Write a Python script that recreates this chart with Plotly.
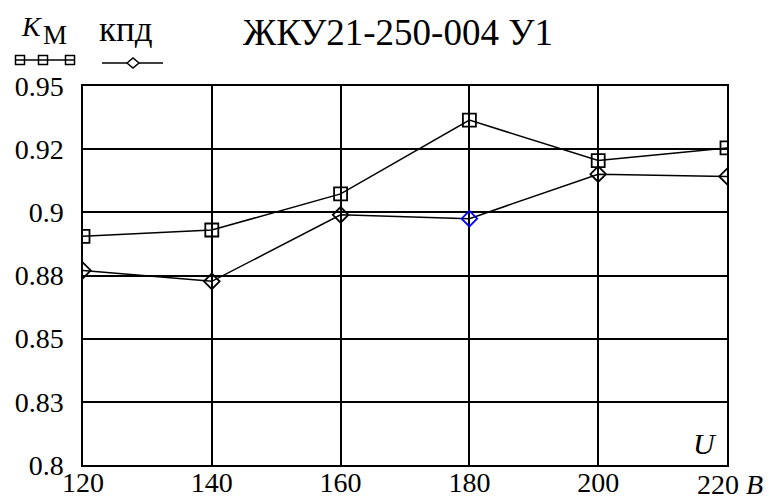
import plotly.graph_objects as go

# ---- data ----
voltage = [120, 140, 160, 180, 200, 220]
k_m = [0.8905, 0.8930, 0.9073, 0.9365, 0.9205, 0.9255]
kpd = [0.8770, 0.8727, 0.8990, 0.8975, 0.9151, 0.9142]
kpd_marker_colors = ["black", "black", "black", "blue", "black", "black"]

y_tickvals = [0.8, 0.825, 0.85, 0.875, 0.9, 0.925, 0.95]
y_ticktext = ["0.8", "0.83", "0.85", "0.88", "0.9", "0.92", "0.95"]
x_tickvals = [120, 140, 160, 180, 200]
x_ticktext = ["120", "140", "160", "180", "200"]

title_text = "ЖКУ21-250-004 У1"

FONT = "Liberation Serif, Times New Roman, DejaVu Serif, serif"
W, H = 783, 501
L, R, T, B = 83, 56, 86, 36
PW, PH = W - L - R, H - T - B


def px(x):
    return (x - L) / PW


def py(y):
    return (H - B - y) / PH


fig = go.Figure()
fig.add_trace(go.Scatter(
    x=voltage, y=k_m, mode="lines+markers",
    line=dict(color="black", width=1.5),
    marker=dict(symbol="square-open", size=13, color="black",
                line=dict(color="black", width=1.8)),
    showlegend=False))
fig.add_trace(go.Scatter(
    x=voltage, y=kpd, mode="lines+markers",
    line=dict(color="black", width=1.5),
    marker=dict(symbol="diamond-open", size=12, color=kpd_marker_colors,
                line=dict(color=kpd_marker_colors, width=1.8)),
    showlegend=False))

shapes = []
# legend glyph 1 (squares)
shapes.append(dict(type="line", xref="paper", yref="paper",
                   x0=px(15), x1=px(75), y0=py(60), y1=py(60),
                   line=dict(color="black", width=1.5)))
for cx in (20, 43, 70):
    shapes.append(dict(type="rect", xref="paper", yref="paper",
                       x0=px(cx - 4.5), x1=px(cx + 4.5), y0=py(64.5), y1=py(55.5),
                       line=dict(color="black", width=1.5)))
# legend glyph 2 (diamond)
shapes.append(dict(type="line", xref="paper", yref="paper",
                   x0=px(102), x1=px(163), y0=py(63), y1=py(63),
                   line=dict(color="black", width=1.5)))
cx, cy = 133, 63
path = (f"M {px(cx-6)} {py(cy)} L {px(cx)} {py(cy-5)} "
        f"L {px(cx+6)} {py(cy)} L {px(cx)} {py(cy+5)} Z")
shapes.append(dict(type="path", xref="paper", yref="paper", path=path,
                   fillcolor="white", line=dict(color="black", width=1.5)))


def ann(text, x, y, size, xanchor="left"):
    return dict(text=text, xref="paper", yref="paper", x=px(x), y=py(y),
                xanchor=xanchor, yanchor="middle", showarrow=False,
                font=dict(family=FONT, size=size, color="black"))


annotations = [
    ann("<i>K</i>", 19, 27, 28),
    ann("М", 41, 35, 27),
    ann("кпд", 97, 30, 35),
    ann(title_text, 241, 33, 37),
    ann("<i>U</i>", 705, 443, 30, "center"),
    ann("220 <i>B</i>", 695, 484, 28),
]

fig.update_layout(
    width=W, height=H,
    margin=dict(l=L, r=R, t=T, b=B, pad=0, autoexpand=False),
    paper_bgcolor="white", plot_bgcolor="white",
    font=dict(family=FONT, size=28, color="black"),
    shapes=shapes, annotations=annotations,
    xaxis=dict(range=[120, 220], tickvals=x_tickvals, ticktext=x_ticktext,
               showgrid=True, gridcolor="black", gridwidth=1.5,
               showline=True, linecolor="black", linewidth=1.5, mirror=True,
               zeroline=False, ticks="", ticklabelstandoff=-8, automargin=False,
               tickfont=dict(family=FONT, size=28, color="black")),
    yaxis=dict(range=[0.8, 0.95], tickvals=y_tickvals, ticktext=y_ticktext,
               showgrid=True, gridcolor="black", gridwidth=1.5,
               showline=True, linecolor="black", linewidth=1.5, mirror=True,
               zeroline=False, ticks="", ticklabelstandoff=12, automargin=False,
               tickfont=dict(family=FONT, size=28, color="black")),
)

fig.write_html("out.html",
               config={"displayModeBar": False},
               post_script="document.body.style.margin='0px';"
                           "document.body.style.padding='0px';")
